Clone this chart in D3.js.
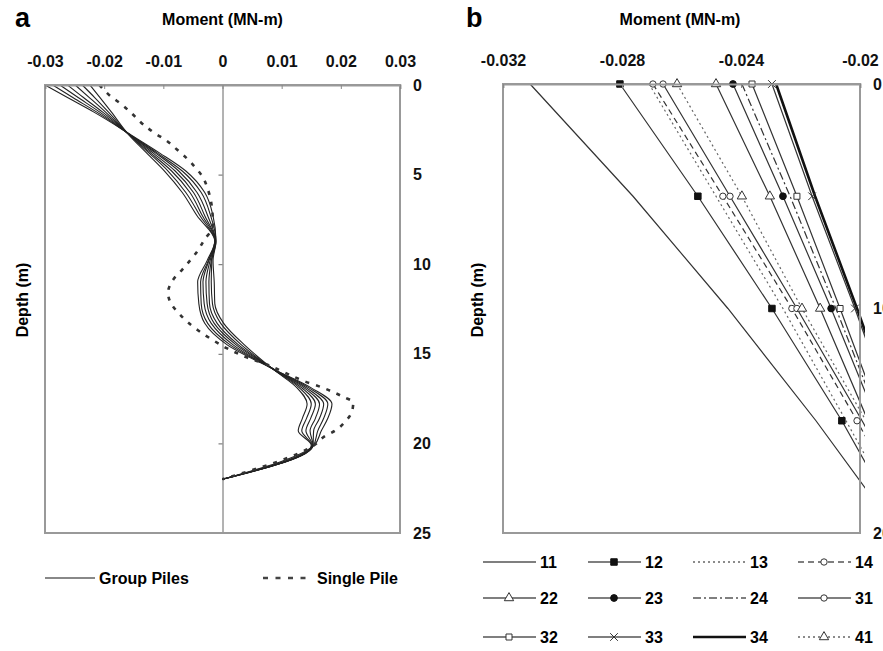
<!DOCTYPE html>
<html>
<head>
<meta charset="utf-8">
<script src="https://cdn.jsdelivr.net/npm/d3@7"></script>
<style>
  body { margin: 0; background: #fff; }
  svg { display: block; font-family: "Liberation Sans", Arial, sans-serif; font-weight: bold; }
</style>
</head>
<body>
<div id="chart"></div>
<script>
// ---- panel a data: moment vs depth ----
const momentTicksA = [-0.03, -0.02, -0.01, 0, 0.01, 0.02, 0.03];
const depthTicksA = [0, 5, 10, 15, 20, 25];

const groupDepths = [0, 0.7, 1.5, 2.8, 3.8, 4.8, 6, 7.3, 8.7, 9.8, 11, 12.2, 13.3, 14.5, 15.9, 16.9, 17.8, 18.6, 19.3, 20.1, 22];
const groupMoments = [
  [-0.0300, -0.0262, -0.0218, -0.0154, -0.0106, -0.0062, -0.0030, -0.0016, -0.0011, -0.0016, -0.0014, -0.0013, 0.0002, 0.0037, 0.0087, 0.0126, 0.0143, 0.0135, 0.0128, 0.0150, 0],
  [-0.0287, -0.0253, -0.0213, -0.0155, -0.0110, -0.0068, -0.0036, -0.0020, -0.0011, -0.0018, -0.0019, -0.0017, -0.0003, 0.0032, 0.0087, 0.0130, 0.0150, 0.0142, 0.0134, 0.0151, 0],
  [-0.0275, -0.0244, -0.0208, -0.0156, -0.0113, -0.0074, -0.0043, -0.0025, -0.0012, -0.0019, -0.0023, -0.0022, -0.0009, 0.0027, 0.0088, 0.0134, 0.0157, 0.0149, 0.0141, 0.0152, 0],
  [-0.0262, -0.0235, -0.0203, -0.0156, -0.0117, -0.0080, -0.0049, -0.0030, -0.0012, -0.0021, -0.0028, -0.0026, -0.0014, 0.0023, 0.0088, 0.0138, 0.0164, 0.0157, 0.0148, 0.0153, 0],
  [-0.0249, -0.0225, -0.0198, -0.0157, -0.0121, -0.0086, -0.0055, -0.0034, -0.0012, -0.0023, -0.0033, -0.0031, -0.0019, 0.0018, 0.0088, 0.0142, 0.0171, 0.0164, 0.0154, 0.0153, 0],
  [-0.0237, -0.0216, -0.0193, -0.0157, -0.0124, -0.0092, -0.0062, -0.0038, -0.0013, -0.0024, -0.0037, -0.0036, -0.0025, 0.0013, 0.0089, 0.0146, 0.0178, 0.0171, 0.0161, 0.0154, 0],
  [-0.0224, -0.0207, -0.0188, -0.0158, -0.0128, -0.0098, -0.0068, -0.0043, -0.0013, -0.0026, -0.0042, -0.0040, -0.0030, 0.0008, 0.0089, 0.0150, 0.0185, 0.0178, 0.0167, 0.0155, 0]
];

const singleDepths = [0, 0.6, 1.1, 1.6, 2.2, 2.7, 3.1, 3.6, 4.1, 4.6, 5.1, 5.8, 6.8, 7.9, 8.6, 9.3, 9.8, 10.3, 10.8, 11.6, 12.3, 12.7, 13.2, 13.7, 14.2, 14.7, 15.2, 15.6, 16.0, 16.5, 16.9, 17.4, 17.7, 18.2, 18.8, 19.3, 19.6, 20.1, 22];
const singleMoments = [-0.0208, -0.0190, -0.0170, -0.0153, -0.0134, -0.0114, -0.0095, -0.0077, -0.0060, -0.0046, -0.0034, -0.0025, -0.0018, -0.0016, -0.0030, -0.0043, -0.0055, -0.0068, -0.0082, -0.0092, -0.0085, -0.0075, -0.0060, -0.0041, -0.0018, 0.0008, 0.0041, 0.0075, 0.0102, 0.0136, 0.0170, 0.0204, 0.0221, 0.0219, 0.0207, 0.0190, 0.0173, 0.0155, 0];

// ---- panel b data: individual piles ----
const momentTicksB = [-0.032, -0.028, -0.024, -0.02];
const depthTicksB = [0, 10, 20];
const pileDepths = [0, 5, 10, 15, 20];
const pileIds = ["11", "12", "13", "14", "22", "23", "24", "31", "32", "33", "34", "41"];
const pileMoments = [
  [-0.03109, -0.02763, -0.02444, -0.02148, -0.01872],
  [-0.02807, -0.02545, -0.02296, -0.02061, -0.01849],
  [-0.02709, -0.02484, -0.02259, -0.02047, -0.01839],
  [-0.02696, -0.02461, -0.02229, -0.02010, -0.01805],
  [-0.02484, -0.02303, -0.02134, -0.01973, -0.01820],
  [-0.02427, -0.02259, -0.02097, -0.01943, -0.01800],
  [-0.02397, -0.02235, -0.02081, -0.01933, -0.01790],
  [-0.02662, -0.02437, -0.02212, -0.01993, -0.01782],
  [-0.02363, -0.02212, -0.02067, -0.01926, -0.01790],
  [-0.02296, -0.02161, -0.02017, -0.01882, -0.01750],
  [-0.02282, -0.02151, -0.02010, -0.01876, -0.01745],
  [-0.02615, -0.02397, -0.02195, -0.01980, -0.01771]
];

const pileStyle = {
  "11": {},
  "12": {marker: "squareFill"},
  "13": {dash: "2,3", color: "#666"},
  "14": {dash: "6,4", marker: "circleOpen"},
  "22": {marker: "triangleOpen"},
  "23": {marker: "circleFill"},
  "24": {dash: "8,3,2,3"},
  "31": {marker: "circleOpen"},
  "32": {marker: "squareOpen"},
  "33": {marker: "times"},
  "34": {width: 2.6, color: "#111"},
  "41": {dash: "2,3", marker: "triangleOpen", color: "#666"}
};

const width = 883, height = 651;
const fs = 16;
const svg = d3.select("#chart").append("svg")
  .attr("width", width).attr("height", height);

const frameColor = "#999";
const fmt = d => String(d);

function drawMarker(g, type, x, y) {
  if (!type) return;
  const shapes = {
    squareFill: [d3.symbolSquare, 42, "#111", "#111"],
    squareOpen: [d3.symbolSquare, 36, "#fff", "#333"],
    circleFill: [d3.symbolCircle, 36, "#111", "#111"],
    circleOpen: [d3.symbolCircle, 32, "#fff", "#333"],
    triangleOpen: [d3.symbolTriangle, 38, "#fff", "#333"],
    times: [d3.symbolTimes, 40, "none", "#333"]
  };
  const s = shapes[type];
  g.append("path")
    .attr("d", d3.symbol().type(s[0]).size(s[1])())
    .attr("transform", `translate(${x},${y})`)
    .attr("fill", s[2]).attr("stroke", s[3]).attr("stroke-width", 1);
}

// ================= panel a =================
const xA = d3.scaleLinear().domain([-0.03, 0.03]).range([45, 400]);
const yA = d3.scaleLinear().domain([0, 25]).range([85, 533]);
const gA = svg.append("g");

gA.append("text").attr("x", 15).attr("y", 27).attr("font-size", 27).text("a");
gA.append("text").attr("x", (xA.range()[0] + xA.range()[1]) / 2).attr("y", 25)
  .attr("text-anchor", "middle").attr("font-size", fs).text("Moment (MN-m)");
gA.append("text").attr("transform", `translate(28,300) rotate(-90)`)
  .attr("text-anchor", "middle").attr("font-size", fs).text("Depth (m)");

// zero line with depth ticks
gA.append("g").attr("transform", `translate(${xA(0)},0)`)
  .call(d3.axisLeft(yA).tickValues(depthTicksA).tickSize(4).tickFormat(""))
  .call(g => g.selectAll("line,path").attr("stroke", "#666"));

// group piles
const lineA = d3.line().x(d => xA(d[1])).y(d => yA(d[0])).curve(d3.curveMonotoneY);
groupMoments.forEach(vals => {
  gA.append("path")
    .attr("d", lineA(groupDepths.map((d, i) => [d, vals[i]])))
    .attr("fill", "none").attr("stroke", "#222").attr("stroke-width", 1.1);
});
// single pile
gA.append("path")
  .attr("d", lineA(singleDepths.map((d, i) => [d, singleMoments[i]])))
  .attr("fill", "none").attr("stroke", "#333").attr("stroke-width", 2.6)
  .attr("stroke-dasharray", "4,7");

gA.append("rect").attr("x", 45).attr("y", 85).attr("width", 355).attr("height", 448)
  .attr("fill", "none").attr("stroke", frameColor).attr("stroke-width", 2);

gA.append("g").attr("transform", `translate(0,${yA(0)})`)
  .call(d3.axisTop(xA).tickValues(momentTicksA).tickSize(-4).tickPadding(18).tickFormat(fmt))
  .call(g => g.select(".domain").attr("stroke", frameColor).attr("stroke-width", 2))
  .call(g => g.selectAll(".tick line").attr("stroke", "#888"))
  .call(g => g.selectAll("text").attr("font-size", fs).attr("fill", "#111"));

gA.append("g").attr("transform", `translate(400,0)`)
  .call(d3.axisRight(yA).tickValues(depthTicksA).tickSize(0).tickPadding(13).tickFormat(fmt))
  .call(g => g.select(".domain").remove())
  .call(g => g.selectAll("text").attr("font-size", fs).attr("fill", "#111"));

// legend a
const legA = gA.append("g");
legA.append("line").attr("x1", 45).attr("x2", 95).attr("y1", 578).attr("y2", 578)
  .attr("stroke", "#888").attr("stroke-width", 2);
legA.append("text").attr("x", 99).attr("y", 584).attr("font-size", fs).text("Group Piles");
legA.append("line").attr("x1", 263).attr("x2", 312).attr("y1", 578).attr("y2", 578)
  .attr("stroke", "#444").attr("stroke-width", 2.6).attr("stroke-dasharray", "5,7.5");
legA.append("text").attr("x", 317).attr("y", 584).attr("font-size", fs).text("Single Pile");

// ================= panel b =================
const xB = d3.scaleLinear().domain([-0.032, -0.02]).range([503, 860]);
const yB = d3.scaleLinear().domain([0, 20]).range([84, 533]);
const gB = svg.append("g");

gB.append("text").attr("x", 466).attr("y", 27).attr("font-size", 27).text("b");
gB.append("text").attr("x", 680).attr("y", 25)
  .attr("text-anchor", "middle").attr("font-size", fs).text("Moment (MN-m)");
gB.append("text").attr("transform", `translate(483,300) rotate(-90)`)
  .attr("text-anchor", "middle").attr("font-size", fs).text("Depth (m)");

svg.append("clipPath").attr("id", "clipB")
  .append("rect").attr("x", 503).attr("y", 80).attr("width", 362).attr("height", 455);

const lineB = d3.line().x(d => xB(d[1])).y(d => yB(d[0]));
const plotB = gB.append("g").attr("clip-path", "url(#clipB)");
pileIds.forEach((id, k) => {
  const st = pileStyle[id];
  const pts = pileDepths.map((d, i) => [d, pileMoments[k][i]]);
  plotB.append("path").attr("d", lineB(pts))
    .attr("fill", "none").attr("stroke", st.color || "#333")
    .attr("stroke-width", st.width || 1.2)
    .attr("stroke-dasharray", st.dash || null);
});

gB.append("rect").attr("x", 503).attr("y", 84).attr("width", 357).attr("height", 449)
  .attr("fill", "none").attr("stroke", frameColor).attr("stroke-width", 2);

pileIds.forEach((id, k) => {
  const st = pileStyle[id];
  pileDepths.forEach((d, i) => {
    const v = pileMoments[k][i];
    if (v <= xB.domain()[1]) drawMarker(gB, st.marker, xB(v), yB(d));
  });
});

gB.append("g").attr("transform", `translate(0,${yB(0)})`)
  .call(d3.axisTop(xB).tickValues(momentTicksB).tickSize(-4).tickPadding(18).tickFormat(fmt))
  .call(g => g.select(".domain").attr("stroke", frameColor).attr("stroke-width", 2))
  .call(g => g.selectAll(".tick line").attr("stroke", "#888"))
  .call(g => g.selectAll("text").attr("font-size", fs).attr("fill", "#111"));

gB.append("g").attr("transform", `translate(860,0)`)
  .call(d3.axisRight(yB).tickValues(depthTicksB).tickSize(0).tickPadding(13).tickFormat(fmt))
  .call(g => g.select(".domain").remove())
  .call(g => g.selectAll("text").attr("font-size", fs).attr("fill", "#111"));

// legend b: 4 columns x 3 rows
const legCols = [483, 588, 693, 798];
const legRows = [562, 598, 637];
pileIds.forEach((id, k) => {
  const st = pileStyle[id];
  const x0 = legCols[k % 4], y0 = legRows[Math.floor(k / 4)];
  gB.append("line").attr("x1", x0).attr("x2", x0 + 53).attr("y1", y0).attr("y2", y0)
    .attr("stroke", st.color || "#555").attr("stroke-width", st.width || 1.4)
    .attr("stroke-dasharray", st.dash || null);
  drawMarker(gB, st.marker, x0 + 26, y0);
  gB.append("text").attr("x", x0 + 57).attr("y", y0 + 6).attr("font-size", fs).text(id);
});
</script>
</body>
</html>
